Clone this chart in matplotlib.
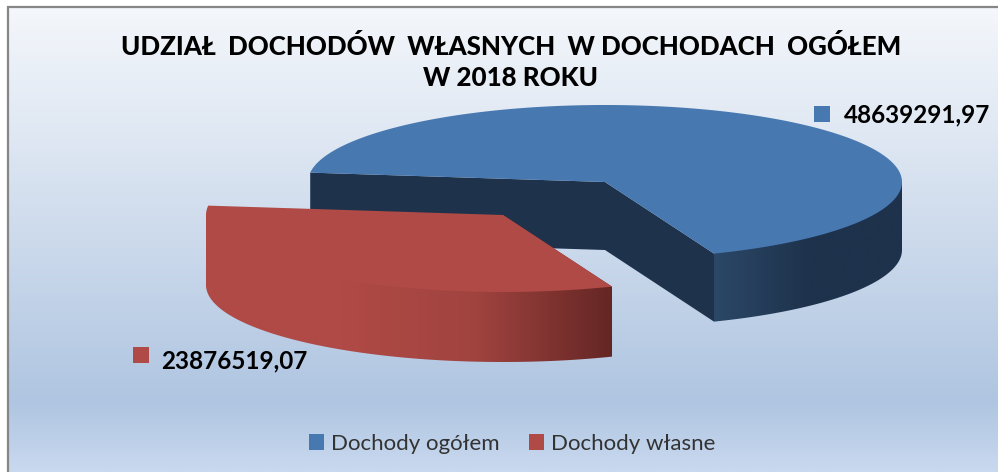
import numpy as np
import matplotlib
matplotlib.use("Agg")
import matplotlib.pyplot as plt
from matplotlib.colors import LinearSegmentedColormap
from matplotlib.patches import Patch, Polygon

# Data
categories = ["Dochody ogółem", "Dochody własne"]
values = [48639291.97, 23876519.07]
value_labels = ["48639291,97", "23876519,07"]
title_lines = "UDZIAŁ  DOCHODÓW  WŁASNYCH  W DOCHODACH  OGÓŁEM\nW 2018 ROKU"

colors = ["#4878b0", "#b04a46"]
blue_side = ["#2b4867", "#1e324c", "#1e324c"]
red_side = ["#b04a46", "#b04a46", "#a0433f", "#642624"]

plt.rcParams['font.family'] = ['Lato', 'DejaVu Sans']

fig = plt.figure(figsize=(9.98, 4.72), dpi=100)
ax = fig.add_axes([0, 0, 1, 1])
ax.set_xlim(0, 998)
ax.set_ylim(472, 0)
ax.axis("off")

# Background
bg_cmap = LinearSegmentedColormap.from_list("bg", [
    (0, "#f4f7fb"), (0.3, "#dde6f2"), (0.85, "#afc5e1"), (1, "#c9d9ef")])
bg = np.linspace(0, 1, 256).reshape(-1, 1)
ax.imshow(bg, cmap=bg_cmap, extent=[8, 998, 472, 7], aspect="auto", zorder=0)
ax.plot([8, 8, 998], [472, 7, 7], color="#868686", lw=1.6, zorder=1, solid_joinstyle="miter")
ax.set_xlim(0, 998)
ax.set_ylim(472, 0)


def rim(cx, cy, t1, t2):
    t = np.radians(np.linspace(t1, t2, 200))
    return np.column_stack([cx + 297 * np.cos(t), cy + 77 * np.sin(t)])


def gradient_fill(points, stops, x0, x1, z):
    cmap = LinearSegmentedColormap.from_list("g", stops)
    im = ax.imshow(np.linspace(0, 1, 256).reshape(1, -1), cmap=cmap,
                   extent=[x0, x1, 472, 0], aspect="auto", zorder=z)
    poly = Polygon(points, closed=True, transform=ax.transData, fc="none", ec="none")
    ax.add_patch(poly)
    im.set_clip_path(poly)
    ax.set_xlim(0, 998)
    ax.set_ylim(472, 0)


# Angles come from the shares of the two values
start = 187
spans = 360 * np.array(values) / sum(values)
blue_end = start + spans[0]
depth_b, depth_r = 68, 70
bx, by = 605, 182
rx, ry = 503, 215

# Blue slice: cut faces, outer side, top
b_top = rim(bx, by, start, blue_end)
apex = np.array([[bx, by]])
cut = np.vstack([b_top[0:1], apex, b_top[-1:]])
cut_low = cut[::-1] + [0, depth_b]
ax.add_patch(Polygon(np.vstack([cut, cut_low]), closed=True, fc="#1e324c", ec="none", zorder=2))
front = rim(bx, by, 360, blue_end)
# side shapes reach under the top so no background leaks along the rim
gradient_fill(np.vstack([apex, front[0:1], front + [0, depth_b], front[-1:]]), blue_side[::-1],
              bx + 297, front[-1, 0], 3)
ax.add_patch(Polygon(np.vstack([apex, b_top]), closed=True, fc=colors[0], ec="none", zorder=4))

# Red slice: outer side, top
r_top = rim(rx, ry, blue_end - 360, start)
r_front = rim(rx, ry, blue_end - 360, 180)
r_apex = np.array([[rx, ry]])
gradient_fill(np.vstack([r_apex, r_front[-1:], r_front[::-1] + [0, depth_r], r_front[0:1]]),
              red_side[::-1], r_front[0, 0], 206, 5)
ax.add_patch(Polygon(np.vstack([r_apex, r_top]), closed=True, fc=colors[1], ec="none", zorder=6))

# Texts
ax.text(511, 62, title_lines, ha="center", va="center", fontsize=18.6, fontweight=900,
        linespacing=1.38, color="black", zorder=8)

ax.scatter([822], [114], marker="s", s=120, color=colors[0], zorder=8, linewidths=0)
ax.text(844, 115, value_labels[0], ha="left", va="center", fontsize=17.5, fontweight="bold", zorder=8)
ax.scatter([141], [355], marker="s", s=120, color=colors[1], zorder=8, linewidths=0)
ax.text(161, 361, value_labels[1], ha="left", va="center", fontsize=17.5, fontweight="bold", zorder=8)

handles = [Patch(fc=c, ec="none") for c in colors]
ax.legend(handles, categories, loc="center", bbox_to_anchor=(512 / 998, 1 - 444 / 472),
          ncol=2, frameon=False, fontsize=16, handlelength=0.7, handleheight=0.7,
          handletextpad=0.3, columnspacing=1.3, labelcolor="#333333")

fig.savefig("out.png", dpi=100)
